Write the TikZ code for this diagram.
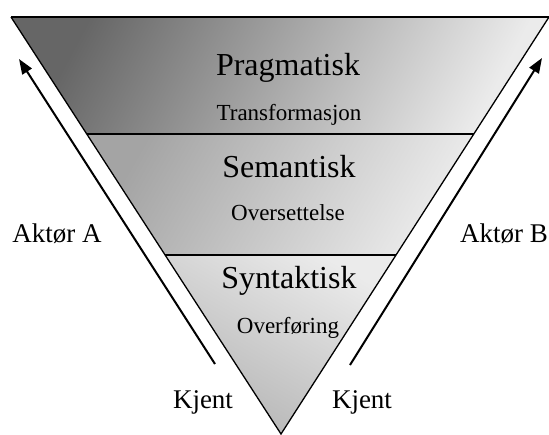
\documentclass[tikz,border=0pt]{standalone}
\usepackage{fontspec}
\setmainfont{Liberation Serif}
\usetikzlibrary{calc,arrows.meta}
\definecolor{dkA}{HTML}{666666}
\definecolor{ltA}{HTML}{EBEBEB}
\definecolor{dkB}{HTML}{A4A4A4}
\definecolor{dkC}{HTML}{B4B4B4}
\tikzset{
  head/.style={font=\fontsize{32}{32}\selectfont, anchor=base},
  sub/.style={font=\fontsize{23}{23}\selectfont, anchor=base},
  side/.style={font=\fontsize{27}{27}\selectfont, anchor=base},
  actor/.style={line width=2pt, -{Triangle[length=15pt,width=11pt]}},
  edge/.style={line width=1.3pt},
  divider/.style={line width=1.5pt}
}
\begin{document}
\begin{tikzpicture}[x=1pt,y=-1pt]
\useasboundingbox (0,0) rectangle (549,434);
\coordinate (tl) at (11,17);
\coordinate (tr) at (549,17);
\coordinate (ap) at (281,434);
\coordinate (l1) at ($(tl)!0.2806!(ap)$);
\coordinate (r1) at ($(tr)!0.2806!(ap)$);
\coordinate (l2) at ($(tl)!0.5707!(ap)$);
\coordinate (r2) at ($(tr)!0.5707!(ap)$);
% bands
\shade[top color=dkA, bottom color=ltA, shading angle=62] (tl) -- (tr) -- (r1) -- (l1) -- cycle;
\shade[top color=dkB, bottom color=ltA, shading angle=60] (l1) -- (r1) -- (r2) -- (l2) -- cycle;
\shade[top color=ltA, bottom color=dkC, shading angle=-30] (l2) -- (r2) -- (ap) -- cycle;
% outline
\draw[edge, line join=miter] (tl) -- (ap) -- (tr);
\draw[line width=2.2pt] (tl) -- (tr);
\draw[divider] (l1) -- (r1);
\draw[divider] (l2) -- (r2);
% arrows
\coordinate (aAs) at (215,364);
\coordinate (aAe) at (19,59);
\coordinate (aBs) at (350,365);
\coordinate (aBe) at (542,58);
\draw[actor] (aAs) -- (aAe);
\draw[actor] (aBs) -- (aBe);
% texts
\node[head] (prag) at (288,75) {Pragmatisk};
\node[sub] (trans) at (289,120) {Transformasjon};
\node[head] (sem) at (289,177) {Semantisk};
\node[sub] (over) at (288,220) {Oversettelse};
\node[head] (syn) at (289,288) {Syntaktisk};
\node[sub] (ovf) at (288,333) {Overføring};
\node[side] (aktA) at (57,242) {Aktør A};
\node[side] (aktB) at (504,242) {Aktør B};
\node[side] (kjA) at (203,408) {Kjent};
\node[side] (kjB) at (362,408) {Kjent};
\end{tikzpicture}
\end{document}
